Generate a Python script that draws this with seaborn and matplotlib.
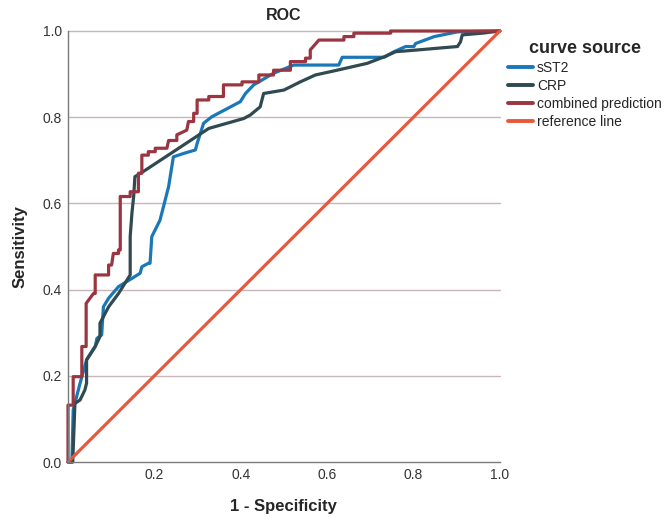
import pandas as pd
import seaborn as sns
import matplotlib
matplotlib.use("Agg")
import matplotlib.pyplot as plt

# ROC curve points (1 - specificity, sensitivity)
sst2_x = [0, .009, .012, .028, .043, .063, .067, .078, .082, .094, .117, .148, .167, .171, .186,
          .190, .194, .213, .233, .244, .268, .295, .299, .314, .333, .399, .411, .430, .476,
          .523, .627, .635, .732, .755, .782, .801, .805, .848, .902, 1.0]
sst2_y = [0, 0, .121, .183, .237, .268, .287, .295, .360, .380, .407, .426, .438, .453, .461,
          .461, .523, .561, .639, .708, .716, .724, .739, .786, .801, .836, .855, .875, .902,
          .921, .921, .939, .939, .952, .964, .964, .971, .987, .998, 1.0]

crp_x = [0, .011, .016, .028, .039, .043, .043, .063, .074, .074, .094, .117, .132, .144, .144,
         .144, .148, .152, .155, .179, .326, .407, .422, .445, .453, .500, .538, .573, .623,
         .693, .732, .759, .809, .902, .909, .913, .960, 1.0]
crp_y = [0, 0, .136, .144, .167, .183, .237, .268, .291, .322, .360, .391, .415, .434, .492,
         .523, .577, .616, .662, .677, .774, .797, .805, .824, .855, .863, .882, .898, .909,
         .925, .940, .952, .956, .964, .975, .991, .995, 1.0]

comb_x = [0, 0, .012, .012, .032, .032, .042, .042, .059, .063, .063, .094, .094, .101, .105,
          .117, .117, .121, .121, .144, .144, .163, .163, .171, .171, .186, .186, .202, .202,
          .229, .233, .252, .252, .275, .279, .291, .291, .299, .299, .326, .326, .360, .360,
          .403, .403, .442, .442, .476, .476, .515, .515, .550, .550, .561, .561, .581, .639,
          .639, .662, .662, .747, .747, 1.0]
comb_y = [0, .132, .132, .198, .198, .268, .268, .368, .391, .391, .434, .434, .457, .457, .484,
          .484, .492, .492, .616, .616, .627, .627, .670, .670, .712, .712, .720, .720, .728,
          .728, .746, .746, .759, .770, .790, .790, .809, .809, .840, .840, .848, .848, .875,
          .875, .882, .882, .898, .898, .909, .909, .929, .929, .937, .937, .956, .979, .979,
          .987, .987, .995, .995, 1.0, 1.0]

ref_x = [0, 1]
ref_y = [0, 1]

sources = ["sST2", "CRP", "combined prediction", "reference line"]
colors = ["#1a78b8", "#2f4a50", "#9b3541", "#ea583b"]

frames = []
for name, xs, ys in zip(sources, [sst2_x, crp_x, comb_x, ref_x], [sst2_y, crp_y, comb_y, ref_y]):
    frames.append(pd.DataFrame({"fpr": xs, "tpr": ys, "curve source": name}))
df = pd.concat(frames, ignore_index=True)

sns.set_style("white")
plt.rcParams['font.family'] = ['Liberation Sans', 'DejaVu Sans']

fig = plt.figure(figsize=(6.7, 5.21), dpi=100)
ax = fig.add_axes([0.1015, 0.1132, 0.6445, 0.8273])

# horizontal grid lines
for yv in [0.2, 0.4, 0.6, 0.8, 1.0]:
    ax.axhline(yv, color="#c9b6ba", lw=1.0, zorder=0)

sns.lineplot(data=df, x="fpr", y="tpr", hue="curve source", hue_order=sources,
             palette=colors, sort=False, estimator=None, units="curve source",
             linewidth=2.3, ax=ax, legend=True)
for ln in ax.lines:
    ln.set_clip_on(False)

ax.set_xlim(0, 1)
ax.set_ylim(0, 1)
ax.set_xticks([0.2, 0.4, 0.6, 0.8, 1.0])
ax.set_yticks([0.0, 0.2, 0.4, 0.6, 0.8, 1.0])
ax.set_xticklabels(["0.2", "0.4", "0.6", "0.8", "1.0"])
ax.set_yticklabels(["0.0", "0.2", "0.4", "0.6", "0.8", "1.0"])
ax.tick_params(length=0, labelsize=10, labelcolor="#333333", pad=4.5)
for s in ["top", "right"]:
    ax.spines[s].set_visible(False)
for s in ["left", "bottom"]:
    ax.spines[s].set_color("#7a7a7a")
    ax.spines[s].set_linewidth(1.0)

ax.set_title("ROC", fontsize=11.5, fontweight="bold", pad=8)
ax.set_xlabel("1 - Specificity", fontsize=12, fontweight="bold", labelpad=12)
ax.set_ylabel("Sensitivity", fontsize=12, fontweight="bold", labelpad=11)

handles, labels = ax.get_legend_handles_labels()
ax.get_legend().remove()
leg = fig.legend(handles, labels, title="curve source", loc="upper left",
                 bbox_to_anchor=(0.7395, 0.947), frameon=False, fontsize=10,
                 handlelength=1.8, handletextpad=0.3, labelspacing=0.28,
                 title_fontproperties={"weight": "bold", "size": 13})
for lh in leg.get_lines():
    lh.set_linewidth(2.8)

fig.savefig("out.png", dpi=100)
